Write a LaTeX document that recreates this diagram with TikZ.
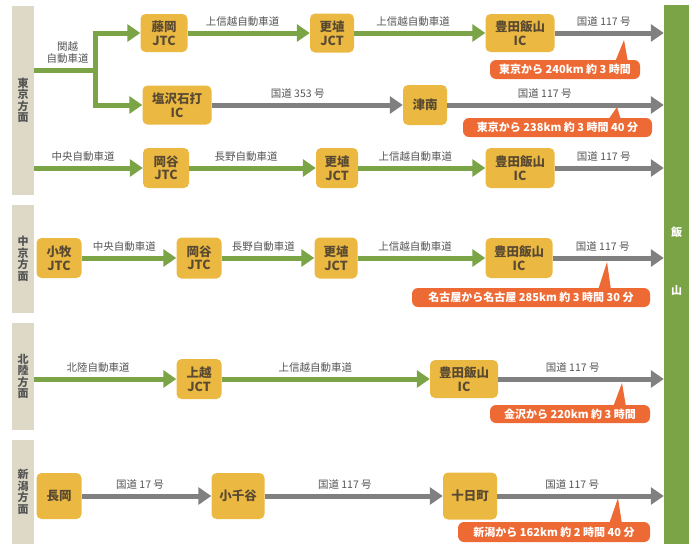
\documentclass[tikz,border=0pt]{standalone}
\usepackage{fontspec}
\setmainfont{Noto Sans CJK JP}
\usetikzlibrary{arrows.meta}
\definecolor{roadgreen}{HTML}{7AA446}
\definecolor{roadgrey}{HTML}{808080}
\definecolor{icyellow}{HTML}{EBB942}
\definecolor{ictext}{HTML}{5A4A32}
\definecolor{calloutred}{HTML}{EE6A35}
\definecolor{areabeige}{HTML}{DDD9C6}
\definecolor{labelgrey}{HTML}{555555}

\begin{document}
\begin{tikzpicture}[x=1pt,y=-1pt,
ic/.style={fill=icyellow,rounded corners=5pt,text=ictext,font=\fontsize{12.5}{13.5}\selectfont\bfseries,align=center,inner sep=0pt},
area/.style={fill=areabeige,text=labelgrey,font=\fontsize{11}{11.5}\selectfont\bfseries,align=center,inner sep=0pt,minimum width=22pt},
green road/.style={draw=roadgreen,line width=5pt,-{Triangle[length=13pt,width=17pt]}},
grey road/.style={draw=roadgrey,line width=5pt,-{Triangle[length=13pt,width=17pt]}},
roadname/.style={text=labelgrey,font=\fontsize{10.5}{11.5}\selectfont,inner sep=0pt,above=4.5pt,pos=0.45},
callout/.style={fill=calloutred,text=white,rounded corners=6pt,font=\fontsize{11}{12}\selectfont\bfseries,inner sep=0pt,minimum height=19pt}]

\useasboundingbox (0,0) rectangle (693,544);

\node[area,minimum height=189pt] (tokyo) at (23,100.5) {東\\京\\方\\面};
\node[area,minimum height=108pt] (chukyo) at (23,259) {中\\京\\方\\面};
\node[area,minimum height=107pt] (hokuriku) at (23,376.5) {北\\陸\\方\\面};
\node[area,minimum height=104pt] (niigata) at (23,492) {新\\潟\\方\\面};

\node[fill=roadgreen,minimum width=25pt,minimum height=539pt,inner sep=0pt] (iiyama) at (676.5,274.5) {};
\node[text=white,font=\fontsize{11}{12}\selectfont\bfseries] (ii) at (676.5,232) {飯};
\node[text=white,font=\fontsize{11}{12}\selectfont\bfseries] (yama) at (676.5,290) {山};

\node[ic,minimum width=47pt,minimum height=38pt] (fujioka) at (164,33) {藤岡\\JTC};
\node[ic,minimum width=44pt,minimum height=39pt] (koshoku1) at (332,33) {更埴\\JCT};
\node[ic,minimum width=69pt,minimum height=38pt] (toyoda1) at (520,33) {豊田飯山\\IC};
\node[ic,minimum width=69pt,minimum height=39pt] (shiozawa) at (177,105) {塩沢石打\\IC};
\node[ic,minimum width=44pt,minimum height=40pt] (tsunan) at (425,105) {津南};
\node[ic,minimum width=46pt,minimum height=40pt] (okaya1) at (166,168) {岡谷\\JTC};
\node[ic,minimum width=42pt,minimum height=40pt] (koshoku2) at (337,168) {更埴\\JCT};
\node[ic,minimum width=69pt,minimum height=40pt] (toyoda2) at (520,168) {豊田飯山\\IC};

\node[ic,minimum width=45pt,minimum height=40pt] (komaki) at (59,258) {小牧\\JTC};
\node[ic,minimum width=45pt,minimum height=41pt] (okaya2) at (199,258) {岡谷\\JTC};
\node[ic,minimum width=43pt,minimum height=41pt] (koshoku3) at (336,258) {更埴\\JCT};
\node[ic,minimum width=67pt,minimum height=40pt] (toyoda3) at (519,258) {豊田飯山\\IC};

\node[ic,minimum width=45pt,minimum height=40pt] (joetsu) at (199,379) {上越\\JCT};
\node[ic,minimum width=68pt,minimum height=38pt] (toyoda4) at (464,379) {豊田飯山\\IC};

\node[ic,minimum width=45pt,minimum height=46pt] (nagaoka) at (59,496) {長岡};
\node[ic,minimum width=53pt,minimum height=46pt] (ojiya) at (238,496) {小千谷};
\node[ic,minimum width=54pt,minimum height=47pt] (tokamachi) at (470,496) {十日町};

\coordinate (kanetsu) at (95,70);
\draw[roadgreen,line width=5pt] (kanetsu -| tokyo.east) -- (kanetsu) node[roadname,align=center,pos=0.55]{関越\\自動車道};
\draw[green road] (kanetsu) |- (fujioka.west);
\draw[green road] (kanetsu) |- (shiozawa.west);
\draw[green road] (fujioka.east) -- (koshoku1.west) node[roadname]{上信越自動車道};
\draw[green road] (koshoku1.east) -- (toyoda1.west) node[roadname]{上信越自動車道};
\draw[grey road] (toyoda1.east) -- (toyoda1.east -| iiyama.west) node[roadname]{国道 117 号};
\draw[grey road] (shiozawa.east) -- (tsunan.west) node[roadname]{国道 353 号};
\draw[grey road] (tsunan.east) -- (tsunan.east -| iiyama.west) node[roadname]{国道 117 号};
\draw[green road] (okaya1.west -| tokyo.east) -- (okaya1.west) node[roadname]{中央自動車道};
\draw[green road] (okaya1.east) -- (koshoku2.west) node[roadname]{長野自動車道};
\draw[green road] (koshoku2.east) -- (toyoda2.west) node[roadname]{上信越自動車道};
\draw[grey road] (toyoda2.east) -- (toyoda2.east -| iiyama.west) node[roadname]{国道 117 号};

\draw[green road] (komaki.east) -- (okaya2.west) node[roadname]{中央自動車道};
\draw[green road] (okaya2.east) -- (koshoku3.west) node[roadname]{長野自動車道};
\draw[green road] (koshoku3.east) -- (toyoda3.west) node[roadname]{上信越自動車道};
\draw[grey road] (toyoda3.east) -- (toyoda3.east -| iiyama.west) node[roadname]{国道 117 号};

\draw[green road] (joetsu.west -| hokuriku.east) -- (joetsu.west) node[roadname]{北陸自動車道};
\draw[green road] (joetsu.east) -- (toyoda4.west) node[roadname]{上信越自動車道};
\draw[grey road] (toyoda4.east) -- (toyoda4.east -| iiyama.west) node[roadname]{国道 117 号};

\draw[grey road] (nagaoka.east) -- (ojiya.west) node[roadname]{国道 17 号};
\draw[grey road] (ojiya.east) -- (tokamachi.west) node[roadname]{国道 117 号};
\draw[grey road] (tokamachi.east) -- (tokamachi.east -| iiyama.west) node[roadname]{国道 117 号};

\node[callout,minimum width=150pt] (dist1) at (565,69.5) {東京から 240km 約 3 時間};
\fill[calloutred] (615,62) -- (624,40) -- (628,62) -- cycle;
\node[callout,minimum width=189pt] (dist2) at (557.5,127.5) {東京から 238km 約 3 時間 40 分};
\fill[calloutred] (608,120) -- (617,107) -- (621,120) -- cycle;
\node[callout,minimum width=238pt] (dist3) at (531,297.5) {名古屋から名古屋 285km 約 3 時間 30 分};
\fill[calloutred] (598,290) -- (607,262) -- (611,290) -- cycle;
\node[callout,minimum width=160pt,minimum height=18pt] (dist4) at (570,414) {金沢から 220km 約 3 時間};
\fill[calloutred] (613,407) -- (622,383) -- (626,407) -- cycle;
\node[callout,minimum width=192pt,minimum height=20pt] (dist5) at (554,532) {新潟から 162km 約 2 時間 40 分};
\fill[calloutred] (609,524) -- (618,498) -- (622,524) -- cycle;
\end{tikzpicture}
\end{document}
